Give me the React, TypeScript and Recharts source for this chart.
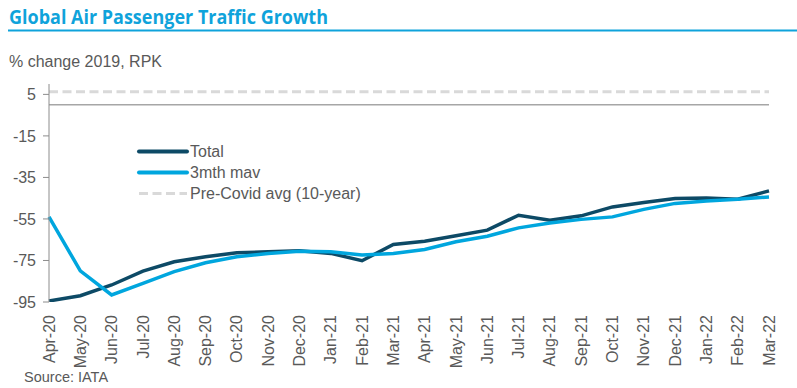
import React from "react";
import { LineChart, Line, XAxis, YAxis, ReferenceLine } from "recharts";

const months = [
  "Apr-20", "May-20", "Jun-20", "Jul-20", "Aug-20", "Sep-20", "Oct-20", "Nov-20",
  "Dec-20", "Jan-21", "Feb-21", "Mar-21", "Apr-21", "May-21", "Jun-21", "Jul-21",
  "Aug-21", "Sep-21", "Oct-21", "Nov-21", "Dec-21", "Jan-22", "Feb-22", "Mar-22",
];
const total = [
  -94.5, -92, -86.8, -80.1, -75.6, -73.2, -71.3, -70.8, -70.3, -71.6, -75.1, -67.3,
  -65.7, -63.1, -60.4, -53.2, -55.6, -53.5, -49.2, -47.1, -45.2, -44.9, -45.5, -41.5,
];
const mav3 = [
  -54, -80, -91.6, -86, -80.4, -76.1, -73.2, -71.6, -70.5, -70.8, -72.4, -71.6,
  -69.7, -66, -63.3, -59.3, -56.9, -55.2, -54, -50.4, -47.5, -46.3, -45.5, -44.4,
];
const preCovidAvg = 6.3;
const yTicks = [-95, -75, -55, -35, -15, 5];
const legendLabels = ["Total", "3mth mav", "Pre-Covid avg (10-year)"];

const data = months.map((m, i) => ({ month: m, total: total[i], mav: mav3[i] }));

const DARK = "#0D4A66";
const LIGHT = "#00A6DE";
const GREY_DASH = "#D9D9D9";
const AXIS = "#8C8C8C";
const TEXT = "#595959";
const FONT = "'Liberation Sans', Arial, sans-serif";

const XTick = (props: any) => {
  const { x, y, payload } = props;
  return (
    <text
      transform={`translate(${x},${y + 5}) rotate(-90)`}
      textAnchor="end"
      dy="0.35em"
      fill={TEXT}
      fontSize={16}
      fontFamily={FONT}
    >
      {payload.value}
    </text>
  );
};

const legendStyles = [
  { color: DARK, dash: false },
  { color: LIGHT, dash: false },
  { color: GREY_DASH, dash: true },
];

export default function App() {
  return (
    <div style={{ position: "absolute", left: 0, top: 0, width: 797, height: 388, background: "#fff" }}>
      <LineChart
        width={797}
        height={388}
        data={data}
        margin={{ top: 84, right: 28, bottom: 0, left: 0 }}
      >
        <XAxis
          dataKey="month"
          interval={0}
          axisLine={false}
          tickLine={false}
          height={86}
          tick={<XTick />}
        />
        <YAxis
          width={49}
          domain={[-95, 10]}
          ticks={yTicks}
          allowDataOverflow
          axisLine={{ stroke: AXIS, strokeWidth: 1 }}
          tickLine={{ stroke: AXIS }}
          tickSize={6}
          tickMargin={7}
          tick={{ fill: TEXT, fontSize: 16, fontFamily: FONT }}
        />
        <ReferenceLine y={0} stroke="#A6A6A6" strokeWidth={1.5} />
        <ReferenceLine
          y={preCovidAvg}
          stroke={GREY_DASH}
          strokeWidth={3}
          strokeDasharray="9 4.5"
        />
        <Line
          dataKey="total"
          stroke={DARK}
          strokeWidth={3.5}
          dot={false}
          isAnimationActive={false}
        />
        <Line
          dataKey="mav"
          stroke={LIGHT}
          strokeWidth={3.5}
          dot={false}
          isAnimationActive={false}
        />
      </LineChart>
      <svg
        width={797}
        height={388}
        style={{ position: "absolute", left: 0, top: 0, pointerEvents: "none" }}
      >
        <text
          x={9}
          y={24}
          fontSize={19}
          fontWeight={700}
          fontFamily="'Open Sans', sans-serif"
          fill="#0FA3DB"
          textLength={319}
          lengthAdjust="spacingAndGlyphs"
        >
          Global Air Passenger Traffic Growth
        </text>
        <rect x={8} y={29.5} width={789} height={2} fill="#0FA3DB" />
        <text x={9} y={67} fontSize={16} fontFamily={FONT} fill={TEXT}>
          % change 2019, RPK
        </text>
        <g transform="translate(137, 141)">
          {legendLabels.map((label, i) => (
            <g key={label} transform={`translate(0, ${i * 21})`}>
              <line
                x1={2}
                x2={50}
                y1={10.5}
                y2={10.5}
                stroke={legendStyles[i].color}
                strokeWidth={legendStyles[i].dash ? 3 : 4}
                strokeLinecap={legendStyles[i].dash ? "butt" : "round"}
                strokeDasharray={legendStyles[i].dash ? "9 4.5" : undefined}
              />
              <text x={53} y={16} fontSize={16} fontFamily={FONT} fill={TEXT}>
                {label}
              </text>
            </g>
          ))}
        </g>
        <text x={24} y={382} fontSize={14.5} fontFamily={FONT} fill={TEXT}>
          Source: IATA
        </text>
      </svg>
    </div>
  );
}
